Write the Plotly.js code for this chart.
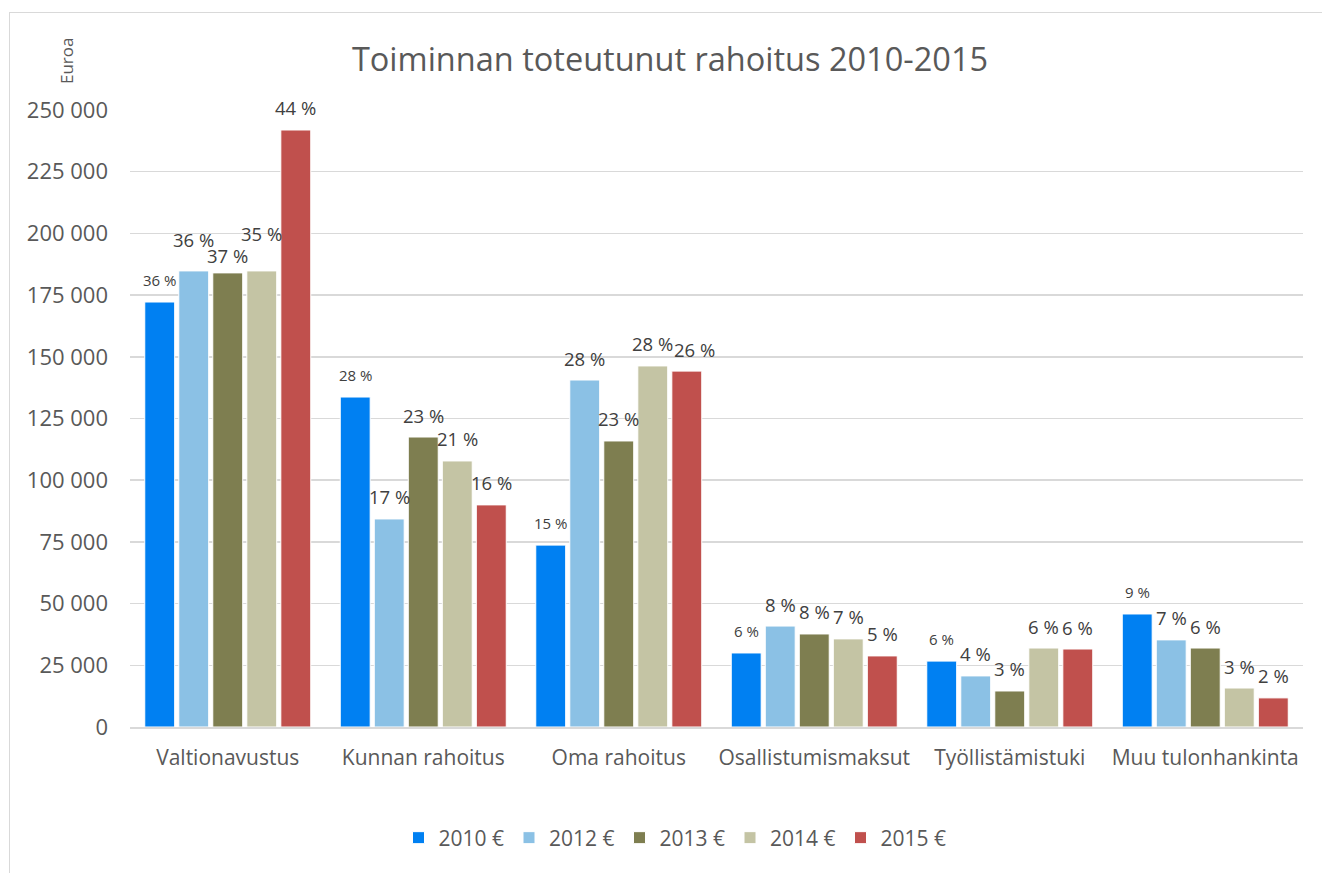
<!DOCTYPE html>
<html>
<head>
<meta charset="utf-8">
<script src="https://cdn.plot.ly/plotly-3.0.1.min.js"></script>
<style>
  html, body { margin: 0; padding: 0; background: #fff; }
  #chart { width: 1322px; height: 873px; }
  #frame { position: absolute; left: 9px; top: 12px; width: 1400px; height: 900px;
           border-left: 1.5px solid #d9d9d9; border-top: 1.5px solid #d9d9d9; pointer-events: none; }
</style>
</head>
<body>
<div id="chart"></div>
<div id="frame"></div>
<script>
const categories = ["Valtionavustus", "Kunnan rahoitus", "Oma rahoitus", "Osallistumismaksut", "Työllistämistuki", "Muu tulonhankinta"];
const seriesNames = ["2010 €", "2012 €", "2013 €", "2014 €", "2015 €"];
const values2010 = [172200, 133700, 73700, 30000, 26700, 45800];
const values2012 = [184800, 84300, 140600, 40900, 20700, 35300];
const values2013 = [184000, 117500, 115900, 37700, 14600, 32000];
const values2014 = [184800, 107800, 146300, 35700, 32000, 15800];
const values2015 = [241900, 90000, 144200, 28800, 31600, 11800];
const pct2010 = ["36 %", "28 %", "15 %", "6 %", "6 %", "9 %"];
const pct2012 = ["36 %", "17 %", "28 %", "8 %", "4 %", "7 %"];
const pct2013 = ["37 %", "23 %", "23 %", "8 %", "3 %", "6 %"];
const pct2014 = ["35 %", "21 %", "28 %", "7 %", "6 %", "3 %"];
const pct2015 = ["44 %", "16 %", "26 %", "5 %", "6 %", "2 %"];
const tickVals = [0, 25000, 50000, 75000, 100000, 125000, 150000, 175000, 200000, 225000, 250000];
const tickText = ["0", "25 000", "50 000", "75 000", "100 000", "125 000", "150 000", "175 000", "200 000", "225 000", "250 000"];

const colors = ["#0080F2", "#8BC1E5", "#7E7E50", "#C4C4A4", "#C0504D"];
const allValues = [values2010, values2012, values2013, values2014, values2015];
const allPct = [pct2010, pct2012, pct2013, pct2014, pct2015];
const labelSizes = [15, 18.5, 18.5, 18.5, 18.5];
// label placement tweaks (pixels), as in the original where labels were nudged to avoid collisions
const labelNudge = {"1-0": {dy: 31}, "2-0": {dy: 17}, "3-0": {dy: 37}, "4-2": {dx: 8}};

const W = 1322, H = 873;
const margin = {l: 130, r: 19, t: 110, b: 146};
const bargap = 0.13;
const plotW = W - margin.l - margin.r;
const plotH = H - margin.t - margin.b;
const catW = plotW / categories.length;
const slot = catW * (1 - bargap) / seriesNames.length;

const font = "'Open Sans', sans-serif";

const traces = seriesNames.map((name, j) => ({
  type: "bar",
  name: name,
  x: categories,
  y: allValues[j],
  marker: {color: colors[j], line: {color: "#ffffff", width: 1}},
  hoverinfo: "x+y+name"
}));

const annotations = [];
seriesNames.forEach((name, j) => {
  categories.forEach((c, i) => {
    const n = labelNudge[j + "-" + i] || {};
    annotations.push({
      x: c, y: allValues[j][i], xref: "x", yref: "y",
      text: allPct[j][i], showarrow: false,
      xanchor: "center", yanchor: "middle",
      xshift: (j - 2) * slot + (n.dx || 0), yshift: (n.dy || 22),
      font: {family: font, size: labelSizes[j], color: "#404040"}
    });
  });
});
annotations.push({
  xref: "paper", yref: "paper", x: (67 - margin.l) / plotW, y: (H - margin.b - 61) / plotH,
  xanchor: "center", yanchor: "middle",
  text: "Euroa", textangle: -90, showarrow: false,
  font: {family: font, size: 17, color: "#595959"}
});

const layout = {
  width: W, height: H,
  margin: margin,
  paper_bgcolor: "#ffffff", plot_bgcolor: "#ffffff",
  font: {family: font, color: "#595959", size: 20},
  title: {text: "Toiminnan toteutunut rahoitus 2010-2015", xref: "container", x: 670 / W, xanchor: "center",
          yref: "container", y: 1 - 60 / H, yanchor: "middle",
          font: {family: font, size: 32.5, color: "#595959"}},
  barmode: "group", bargap: bargap, bargroupgap: 0.12,
  xaxis: {showgrid: false, showline: true, linecolor: "#d9d9d9", linewidth: 1.5, ticks: "",
          tickfont: {family: font, size: 21, color: "#595959"}, ticklabelstandoff: 11},
  yaxis: {range: [0, 250000], tickvals: tickVals, ticktext: tickText, showgrid: true,
          gridcolor: "#d9d9d9", gridwidth: 1.5, zeroline: false, showline: false,
          tickfont: {family: font, size: 22, color: "#595959"}, ticklabelstandoff: 21},
  showlegend: true,
  legend: {orientation: "h", xref: "container", yref: "container", x: 675 / W, xanchor: "center",
           y: 1 - 838 / H, yanchor: "middle", font: {family: font, size: 21, color: "#595959"},
           traceorder: "normal", itemwidth: 30},
  annotations: annotations
};

Plotly.newPlot("chart", traces, layout, {displayModeBar: false, staticPlot: true});
</script>
</body>
</html>
